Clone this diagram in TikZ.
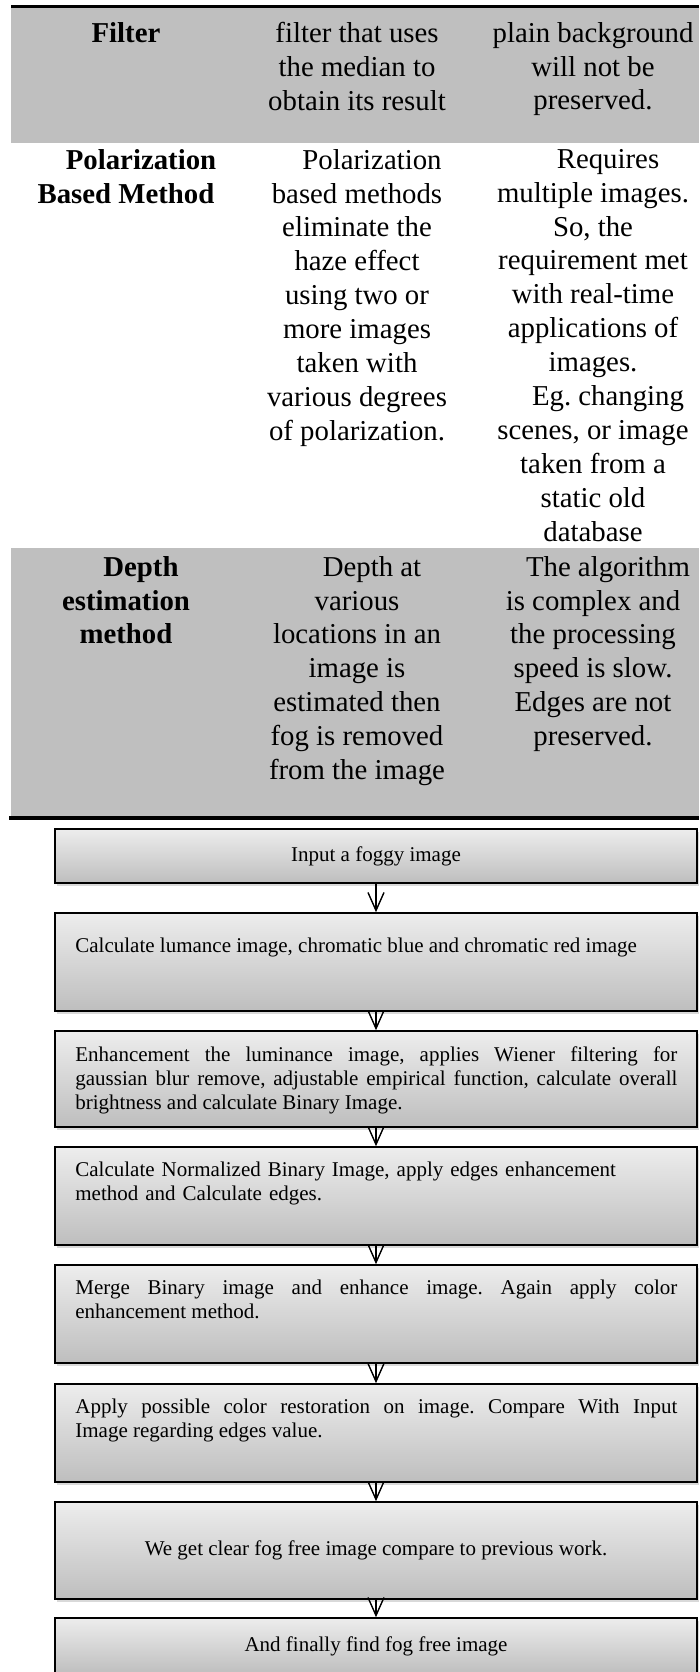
\documentclass[tikz,border=0pt]{standalone}
\usepackage{fontspec}
\setmainfont{Liberation Serif}
\usepackage{tikz}
\usetikzlibrary{arrows.meta,positioning,shadows}
\definecolor{tgray}{RGB}{191,191,191}
\definecolor{btop}{RGB}{237,237,237}
\definecolor{bbot}{RGB}{190,190,190}
\newcommand{\fli}{\hspace*{30pt}}
\frenchspacing

\begin{document}
\begin{tikzpicture}[x=1pt, y=-1pt,
    cell/.style={anchor=north, align=center, inner sep=0pt,
                 font=\fontsize{28.8}{33.9}\selectfont},
    head/.style={cell, font=\fontsize{28.8}{33.9}\selectfont\bfseries},
    stepbox/.style={draw, line width=1.6pt, top color=btop, bottom color=bbot,
                    minimum width=642pt, minimum height=98pt, inner sep=0pt,
                    drop shadow={shadow xshift=1.5pt, shadow yshift=-3pt, opacity=0.3},
                    font=\fontsize{21}{24}\selectfont, align=center},
    steptext/.style={anchor=north west, text width=602pt, align=justify,
                     inner sep=0pt, font=\fontsize{21}{24}\selectfont},
    arr/.style={-{Straight Barb[length=18pt, width=16pt]}, line width=1.4pt},
  ]
    \useasboundingbox (0,0) rectangle (699,1672);
    \clip (0,0) rectangle (699,1672);

    % table rows
    \fill[black] (11,5) rectangle (699,8.5);
    \fill[tgray] (11,8.5) rectangle (699,143);
    \fill[tgray] (11,548) rectangle (699,816);
    \fill[black] (9,816) rectangle (699,820);

    \node[head] (f1) at (126,22) {Filter};
    \node[cell] (f2) at (357,22) {filter that uses\\the median to\\obtain its result};
    \node[cell] (f3) at (593,22) {plain background\\will not be\\preserved.};

    \node[head] (p1) at (126,149) {\fli Polarization\\Based Method};
    \node[cell] (p2) at (357,149) {\fli Polarization\\based methods\\eliminate the\\haze effect\\using two or\\more images\\taken with\\various degrees\\of polarization.};
    \node[cell] (p3) at (593,149) {\fli Requires\\multiple images.\\So, the\\requirement met\\with real-time\\applications of\\images.\\\fli Eg. changing\\scenes, or image\\taken from a\\static old\\database};

    \node[head] (d1) at (126,556) {\fli Depth\\estimation\\method};
    \node[cell] (d2) at (357,556) {\fli Depth at\\various\\locations in an\\image is\\estimated then\\fog is removed\\from the image};
    \node[cell] (d3) at (593,556) {\fli The algorithm\\is complex and\\the processing\\speed is slow.\\Edges are not\\preserved.};

    % flow chart
    \node[stepbox, minimum height=54pt] (s1) at (376,856) {Input a foggy image};
    \node[stepbox] (s2) at (376,962) {};
    \node[stepbox, minimum height=96pt] (s3) at (376,1079) {};
    \node[stepbox] (s4) at (376,1196) {};
    \node[stepbox] (s5) at (376,1314) {};
    \node[stepbox] (s6) at (376,1433) {};
    \node[stepbox, minimum height=97pt] (s7) at (376,1550.5) {We get clear fog free image compare to previous work.};
    \node[stepbox, minimum height=56pt] (s8) at (376,1646) {And finally find fog free image};

    \node[steptext] (t2) at ([xshift=21pt, yshift=-26pt]s2.north west)
      {Calculate lumance image, chromatic blue and chromatic red image};
    \node[steptext] (t3) at ([xshift=21pt, yshift=-16pt]s3.north west)
      {Enhancement the luminance image, applies Wiener filtering for\linebreak gaussian blur remove, adjustable empirical function, calculate overall\linebreak brightness and calculate Binary Image.};
    \node[steptext, align=left] (t4) at ([xshift=21pt, yshift=-16pt]s4.north west)
      {Calculate Normalized Binary Image, apply edges enhancement\\method and Calculate edges.};
    \node[steptext] (t5) at ([xshift=21pt, yshift=-16pt]s5.north west)
      {Merge Binary image and enhance image. Again apply color\linebreak enhancement method.};
    \node[steptext] (t6) at ([xshift=21pt, yshift=-16pt]s6.north west)
      {Apply possible color restoration on image. Compare With Input\linebreak Image regarding edges value.};

    \draw[arr] (s1) -- (s2);
    \draw[arr] (s2) -- (s3);
    \draw[arr] (s3) -- (s4);
    \draw[arr] (s4) -- (s5);
    \draw[arr] (s5) -- (s6);
    \draw[arr] (s6) -- (s7);
    \draw[arr] (s7) -- (s8);
  \end{tikzpicture}
\end{document}
